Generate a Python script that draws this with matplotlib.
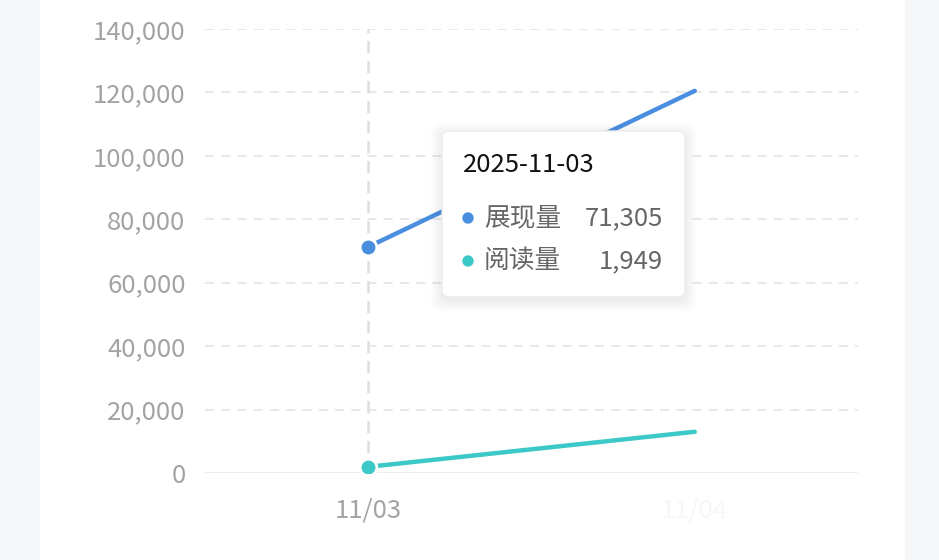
import matplotlib.pyplot as plt
from matplotlib.patches import FancyBboxPatch, Rectangle, Ellipse
from matplotlib.ticker import FuncFormatter

plt.rcParams['font.family'] = ['Noto Sans CJK SC', 'DejaVu Sans']

# data
dates = ["11/03", "11/04"]
tooltip_date = "2025-11-03"
series_names = ["展现量", "阅读量"]
impressions = [71305, 120500]
reads = [1949, 13000]
y_ticks = [0, 20000, 40000, 60000, 80000, 100000, 120000, 140000]

BLUE = "#4a8ee0"
TEAL = "#3cc8c6"
GRID = "#e6e6e6"
LABEL = "#a3a3a3"

W, H = 939, 560
fig = plt.figure(figsize=(W / 100, H / 100), dpi=100)
fig.patch.set_facecolor("#f5f6f8")
# white card behind the chart
fig.patches.append(Rectangle((40 / W, 0), 865 / W, 1, transform=fig.transFigure,
                             facecolor="white", edgecolor="none", zorder=-1))

ax = fig.add_axes([205 / W, (H - 473) / H, 653 / W, 444 / H])
ax.set_facecolor("none")
x = list(range(len(dates)))
ax.set_xlim(-0.5, 1.5)
ax.set_ylim(0, 140000)

for v in y_ticks[1:]:
    ax.axhline(v, color=GRID, lw=1.3, ls=(0, (5, 4)), zorder=1)
ax.axhline(0, color="#eeeeee", lw=1.5, zorder=1)

# hover crosshair
ax.axvline(0, color="#dedede", lw=1.8, ls=(0, (5, 3)), zorder=2)

ax.plot(x, impressions, color=BLUE, lw=3.2, solid_capstyle="round", zorder=3)
ax.plot(x, reads, color=TEAL, lw=3.2, solid_capstyle="round", zorder=3)
ax.plot([0], [impressions[0]], "o", ms=12, color=BLUE, mec="white", mew=2, zorder=4)
ax.plot([0], [reads[0]], "o", ms=12, color=TEAL, mec="white", mew=2, zorder=4)

for s in ax.spines.values():
    s.set_visible(False)
ax.set_yticks(y_ticks)
ax.yaxis.set_major_formatter(FuncFormatter(lambda v, p: f"{int(v):,}"))
ax.set_xticks(x)
ax.set_xticklabels(dates)
ax.tick_params(length=0, labelsize=18.5, colors=LABEL)
ax.tick_params(axis="x", pad=18)
ax.tick_params(axis="y", pad=14)
ax.get_xticklabels()[1].set_color("#f6f6f6")

# tooltip with a soft shadow
for i in range(6):
    d = 1 + i * 2
    fig.patches.append(FancyBboxPatch(((442 - d) / W, (H - 297 - d - 3) / H),
                                      (243 + 2 * d) / W, (166 + 2 * d) / H,
                                      boxstyle="round,pad=0,rounding_size=0.012",
                                      transform=fig.transFigure, facecolor="black",
                                      edgecolor="none", alpha=0.012, zorder=5))
fig.patches.append(FancyBboxPatch((442 / W, (H - 297) / H), 243 / W, 166 / H,
                                  boxstyle="round,pad=0,rounding_size=0.01",
                                  transform=fig.transFigure, facecolor="white",
                                  edgecolor="#ececec", lw=1, zorder=6))
fig.text(463 / W, 1 - 165 / H, tooltip_date, fontsize=18.5, color="#111111",
         va="center", ha="left", zorder=7)
rows = [(series_names[0], impressions[0], BLUE, 218), (series_names[1], reads[0], TEAL, 261)]
for name, val, col, yp in rows:
    fig.patches.append(Ellipse((468 / W, 1 - yp / H), 10 / W, 10 / H, color=col,
                               transform=fig.transFigure, zorder=7))
    fig.text(484 / W, 1 - yp / H, name, fontsize=18.5, color="#666666",
             va="center", ha="left", zorder=7)
    fig.text(663 / W, 1 - yp / H, f"{val:,}", fontsize=18.5, color="#666666",
             va="center", ha="right", zorder=7)

fig.savefig("out.png", dpi=100, facecolor=fig.get_facecolor())
